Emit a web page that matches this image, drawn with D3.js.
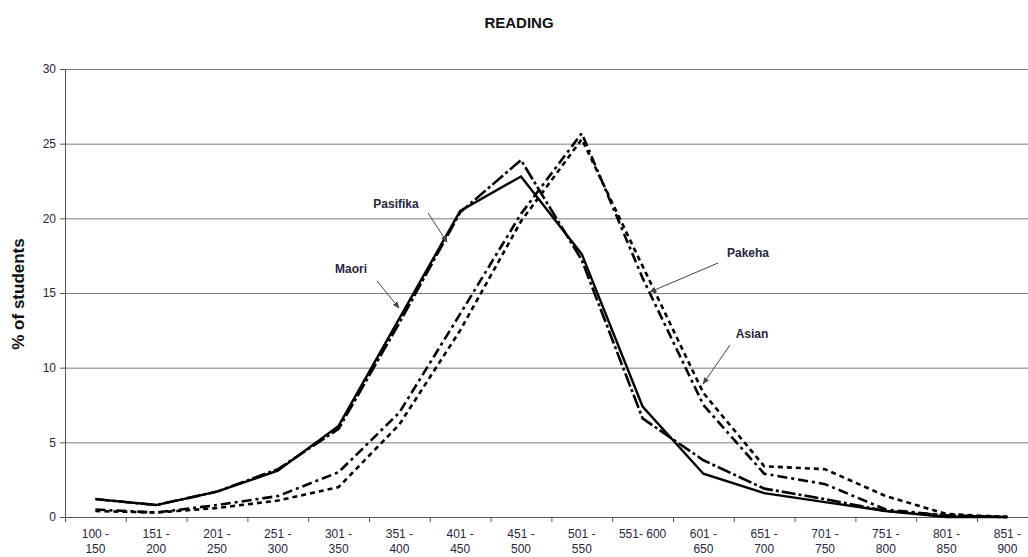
<!DOCTYPE html>
<html>
<head>
<meta charset="utf-8">
<script src="https://cdn.jsdelivr.net/npm/d3@7"></script>
<style>
  html, body { margin: 0; padding: 0; background: #fff; }
  svg { display: block; font-family: Arial, "Liberation Sans", sans-serif; }
</style>
</head>
<body>
<svg id="chart" width="1028" height="557"></svg>
<script>
// ---- data ----
const categories = ["100 - 150","151 - 200","201 - 250","251 - 300","301 - 350","351 - 400","401 - 450","451 - 500","501 - 550","551- 600","601 - 650","651 - 700","701 - 750","751 - 800","801 - 850","851 - 900"];
const maori    = [1.2, 0.8, 1.7, 3.1, 6.1, 13.3, 20.5, 22.8, 17.6, 7.4, 2.9, 1.6, 1.0, 0.4, 0.0, 0.0];
const pasifika = [1.2, 0.8, 1.7, 3.2, 5.9, 13.0, 20.4, 23.9, 17.2, 6.6, 3.8, 1.9, 1.2, 0.4, 0.1, 0.0];
const pakeha   = [0.5, 0.3, 0.8, 1.4, 3.0, 7.0, 13.6, 20.3, 25.7, 16.0, 7.5, 2.9, 2.2, 0.5, 0.1, 0.0];
const asian    = [0.4, 0.3, 0.6, 1.1, 2.0, 6.2, 12.5, 19.8, 25.3, 16.8, 8.3, 3.4, 3.2, 1.4, 0.2, 0.0];
const yTicks = [0, 5, 10, 15, 20, 25, 30];

const series = [
  { name: "Maori",    values: maori,    dash: null,        width: 2.4 },
  { name: "Pasifika", values: pasifika, dash: "14,3,3,3",  width: 2.6 },
  { name: "Pakeha",   values: pakeha,   dash: "10,4,3,4",  width: 2.6 },
  { name: "Asian",    values: asian,    dash: "5,4",       width: 2.6 }
];

const annotations = [
  { text: "Pasifika", lx: 396, ly: 208, x1: 428, y1: 213, x2: 447, y2: 242 },
  { text: "Maori",    lx: 351, ly: 273, x1: 377, y1: 281, x2: 399, y2: 308 },
  { text: "Pakeha",   lx: 748, ly: 257, x1: 718, y1: 263, x2: 650, y2: 292 },
  { text: "Asian",    lx: 752, ly: 338, x1: 730, y1: 345, x2: 703, y2: 384 }
];

const svg = d3.select("#chart");
const mLeft = 65, bandW = 60.8, mTop = 69, mBottom = 517;

const x = d3.scaleBand().domain(categories).range([mLeft, mLeft + bandW * categories.length]).padding(0);
const xIdx = d3.scaleLinear().domain([0, categories.length]).range([mLeft, mLeft + bandW * categories.length]);
const y = d3.scaleLinear().domain([0, 30]).range([mBottom, mTop]);

svg.append("defs").append("marker")
  .attr("id", "arr").attr("viewBox", "0 0 10 10").attr("refX", 9).attr("refY", 5)
  .attr("markerWidth", 7).attr("markerHeight", 7).attr("orient", "auto")
  .append("path").attr("d", "M0,1 L10,5 L0,9 Z").attr("fill", "#444");

svg.append("text").attr("x", 519).attr("y", 28).attr("text-anchor", "middle")
  .attr("font-size", 15).attr("font-weight", "bold").attr("fill", "#111").text("READING");

svg.append("text").attr("transform", "translate(24,294) rotate(-90)")
  .attr("text-anchor", "middle").attr("font-size", 17).attr("font-weight", "bold").attr("fill", "#111")
  .text("% of students");

svg.append("g").selectAll("line").data(yTicks.filter(d => d > 0)).join("line")
  .attr("x1", mLeft).attr("x2", 1028).attr("y1", d => y(d) + 0.5).attr("y2", d => y(d) + 0.5)
  .attr("stroke", "#7a7a7a").attr("stroke-width", 1);

const yAxis = svg.append("g").attr("transform", `translate(${mLeft},0)`)
  .call(d3.axisLeft(y).tickValues(yTicks).tickSize(5).tickPadding(4));
yAxis.select(".domain").attr("stroke", "#555");
yAxis.selectAll(".tick line").attr("stroke", "#555");
yAxis.selectAll(".tick text").attr("font-size", 12).attr("fill", "#2a2540").attr("font-family", "Arial, 'Liberation Sans', sans-serif");

const xAxis = svg.append("g").attr("transform", `translate(0,${mBottom})`)
  .call(d3.axisBottom(xIdx).tickValues(d3.range(0, categories.length + 1)).tickSize(5).tickFormat(""));
xAxis.select(".domain").attr("stroke", "#555").attr("d", `M${mLeft},0.5H1028`);
xAxis.selectAll(".tick line").attr("stroke", "#555");

const xl = svg.append("g").attr("font-size", 12).attr("fill", "#2a2540").attr("text-anchor", "middle");
categories.forEach(c => {
  const cx = x(c) + x.bandwidth() / 2;
  const parts = c.indexOf(" - ") >= 0 ? [c.split(" - ")[0] + " -", c.split(" - ")[1]] : [c];
  parts.forEach((p, i) => {
    xl.append("text").attr("x", cx).attr("y", 538 + i * 15).text(p);
  });
});

const line = d3.line().x((d, i) => x(categories[i]) + x.bandwidth() / 2).y(d => y(d));
svg.append("g").selectAll("path").data(series).join("path")
  .attr("d", d => line(d.values))
  .attr("fill", "none").attr("stroke", "#000")
  .attr("stroke-width", d => d.width)
  .attr("stroke-dasharray", d => d.dash)
  .attr("stroke-linejoin", "miter");

const ag = svg.append("g");
annotations.forEach(a => {
  ag.append("line").attr("x1", a.x1).attr("y1", a.y1).attr("x2", a.x2).attr("y2", a.y2)
    .attr("stroke", "#444").attr("stroke-width", 1).attr("marker-end", "url(#arr)");
  ag.append("text").attr("x", a.lx).attr("y", a.ly).attr("text-anchor", "middle")
    .attr("font-size", 12).attr("font-weight", "bold").attr("fill", "#2a2540").text(a.text);
});
</script>
</body>
</html>
